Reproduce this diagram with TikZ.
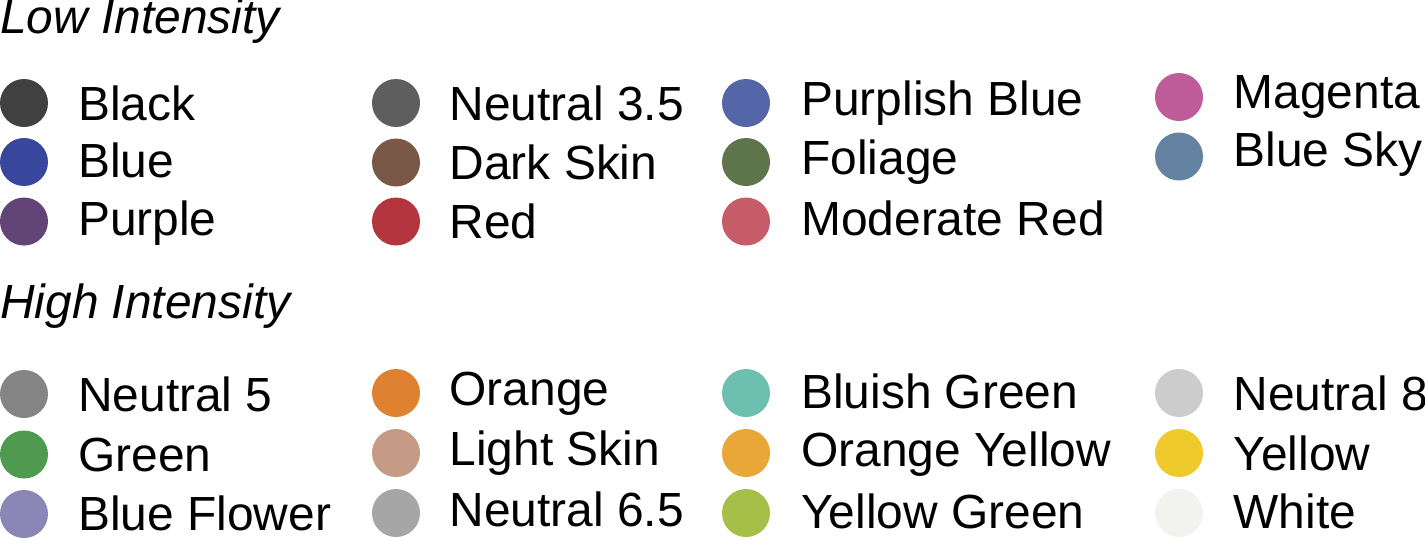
\documentclass[tikz,border=0pt]{standalone}
\usepackage{fontspec}
\setmainfont{Liberation Sans}
\newcommand\entryfont{\fontsize{47.9}{57}\selectfont}
\definecolor{cBlack}{HTML}{404040}
\definecolor{cBlue}{HTML}{38469B}
\definecolor{cPurple}{HTML}{634476}
\definecolor{cNeutralA}{HTML}{5E5E5E}
\definecolor{cDarkSkin}{HTML}{7A5848}
\definecolor{cRed}{HTML}{B5353F}
\definecolor{cPurplishBlue}{HTML}{5465A8}
\definecolor{cFoliage}{HTML}{5E744B}
\definecolor{cModRed}{HTML}{C65C68}
\definecolor{cMagenta}{HTML}{BE5B99}
\definecolor{cBlueSky}{HTML}{6483A2}
\definecolor{cNeutralB}{HTML}{858585}
\definecolor{cGreen}{HTML}{4E9A4E}
\definecolor{cBlueFlower}{HTML}{8A87B6}
\definecolor{cOrange}{HTML}{DE8131}
\definecolor{cLightSkin}{HTML}{C59A87}
\definecolor{cNeutralC}{HTML}{A6A6A6}
\definecolor{cBluishGreen}{HTML}{6DC0AF}
\definecolor{cOrangeYellow}{HTML}{E8A737}
\definecolor{cYellowGreen}{HTML}{A6BF48}
\definecolor{cNeutralD}{HTML}{CCCCCC}
\definecolor{cYellow}{HTML}{EFCA2C}
\definecolor{cWhite}{HTML}{F2F2EE}
\begin{document}
\begin{tikzpicture}[x=1pt,y=-1pt,
  dot/.style={circle,inner sep=0pt,minimum size=48pt,draw=none},
  lbl/.style={anchor=base west,inner sep=0pt,font=\entryfont},
  head/.style={anchor=base west,inner sep=0pt,font=\entryfont\itshape}]
\useasboundingbox (0,0) rectangle (1425,539);
% headings
\node[head] (hLow) at (0,33.5) {Low Intensity};
\node[head] (hHigh) at (0,318) {High Intensity};
% low intensity, column 1
\node[dot,fill=cBlack] (dBlack) at (24,103) {};
\node[lbl] (tBlack) at (78,120.5) {Black};
\node[dot,fill=cBlue] (dBlue) at (24,162) {};
\node[lbl] (tBlue) at (78,177.5) {Blue};
\node[dot,fill=cPurple] (dPurple) at (24,221.5) {};
\node[lbl] (tPurple) at (78,235) {Purple};
% column 2
\node[dot,fill=cNeutralA] (dNeutralA) at (396,103) {};
\node[lbl] (tNeutralA) at (449.5,120.5) {Neutral 3.5};
\node[dot,fill=cDarkSkin] (dDarkSkin) at (396,162.5) {};
\node[lbl] (tDarkSkin) at (449.5,179) {Dark Skin};
\node[dot,fill=cRed] (dRed) at (396,221.5) {};
\node[lbl] (tRed) at (449.5,238) {Red};
% column 3
\node[dot,fill=cPurplishBlue] (dPurplishBlue) at (746,103) {};
\node[lbl] (tPurplishBlue) at (801,115) {Purplish Blue};
\node[dot,fill=cFoliage] (dFoliage) at (746,162) {};
\node[lbl] (tFoliage) at (801,174.5) {Foliage};
\node[dot,fill=cModRed] (dModRed) at (746,221.5) {};
\node[lbl] (tModRed) at (801,235) {Moderate Red};
% column 4
\node[dot,fill=cMagenta] (dMagenta) at (1179,97) {};
\node[lbl] (tMagenta) at (1233.5,108.5) {Magenta};
\node[dot,fill=cBlueSky] (dBlueSky) at (1179,156.5) {};
\node[lbl] (tBlueSky) at (1233.5,166) {Blue Sky};
% high intensity, column 1
\node[dot,fill=cNeutralB] (dNeutralB) at (24,394) {};
\node[lbl] (tNeutralB) at (78,411.5) {Neutral 5};
\node[dot,fill=cGreen] (dGreen) at (24,454.5) {};
\node[lbl] (tGreen) at (78,471.5) {Green};
\node[dot,fill=cBlueFlower] (dBlueFlower) at (24,514) {};
\node[lbl] (tBlueFlower) at (78,530.5) {Blue Flower};
% column 2
\node[dot,fill=cOrange] (dOrange) at (396,393) {};
\node[lbl] (tOrange) at (449.5,405) {Orange};
\node[dot,fill=cLightSkin] (dLightSkin) at (396,453) {};
\node[lbl] (tLightSkin) at (449.5,465) {Light Skin};
\node[dot,fill=cNeutralC] (dNeutralC) at (396,513) {};
\node[lbl] (tNeutralC) at (449.5,526.5) {Neutral 6.5};
% column 3
\node[dot,fill=cBluishGreen] (dBluishGreen) at (746,393) {};
\node[lbl] (tBluishGreen) at (801,408.5) {Bluish Green};
\node[dot,fill=cOrangeYellow] (dOrangeYellow) at (746,453) {};
\node[lbl] (tOrangeYellow) at (801,466.5) {Orange Yellow};
\node[dot,fill=cYellowGreen] (dYellowGreen) at (746,513) {};
\node[lbl] (tYellowGreen) at (801,528.5) {Yellow Green};
% column 4
\node[dot,fill=cNeutralD] (dNeutralD) at (1179,393) {};
\node[lbl] (tNeutralD) at (1233.5,410) {Neutral 8};
\node[dot,fill=cYellow] (dYellow) at (1179,453) {};
\node[lbl] (tYellow) at (1233.5,470) {Yellow};
\node[dot,fill=cWhite] (dWhite) at (1179,513) {};
\node[lbl] (tWhite) at (1233.5,528.5) {White};
\end{tikzpicture}
\end{document}
